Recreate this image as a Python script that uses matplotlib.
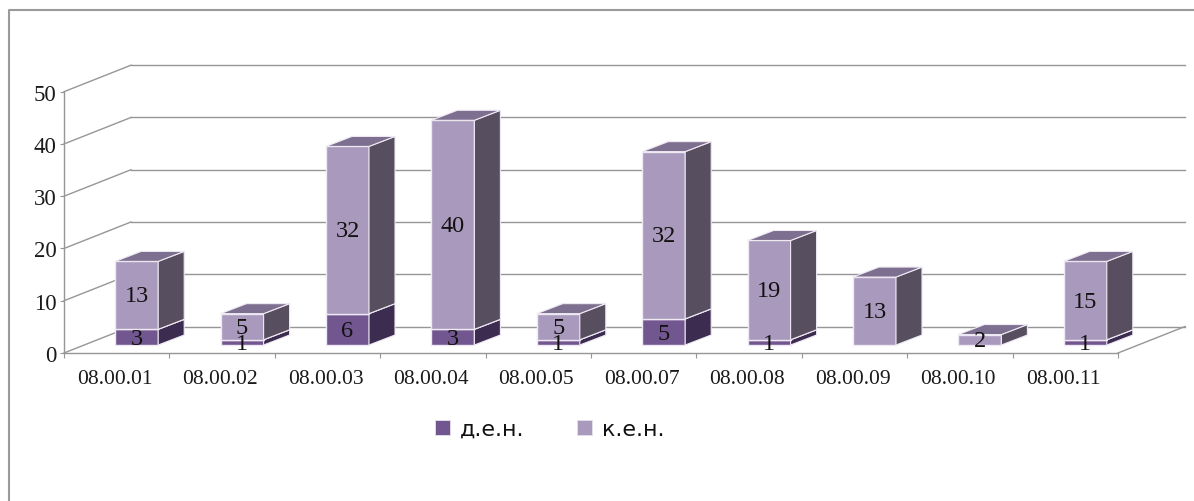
import matplotlib
matplotlib.use("Agg")
import matplotlib.pyplot as plt
from matplotlib.patches import Polygon, Rectangle
from matplotlib.lines import Line2D

categories = ["08.00.01", "08.00.02", "08.00.03", "08.00.04", "08.00.05",
              "08.00.07", "08.00.08", "08.00.09", "08.00.10", "08.00.11"]
den = [3, 1, 6, 3, 1, 5, 1, 0, 0, 1]
ken = [13, 5, 32, 40, 5, 32, 19, 13, 2, 15]
yticks = [0, 10, 20, 30, 40, 50]

W, H = 1194, 502
L, R, Y0, Y50 = 64, 1118, 354, 92.7
fig = plt.figure(figsize=(W/100, H/100), dpi=100, facecolor="white")
ax = fig.add_axes([L/W, 1-Y0/H, (R-L)/W, (Y0-Y50)/H])
ax.set_xlim(0, 10); ax.set_ylim(0, 50)
ax.patch.set_visible(False)
for s in ax.spines.values():
    s.set_visible(False)
ux = 10/(R-L); uy = 50/(Y0-Y50)   # data units per pixel

GRID = "#969696"
WALL_DX, WALL_DY = 67*ux, 26.5*uy
for v in yticks:
    ax.plot([0, WALL_DX], [v, v+WALL_DY], color=GRID, lw=1, clip_on=False, zorder=1)
    ax.plot([WALL_DX, 10+WALL_DX], [v+WALL_DY]*2, color=GRID, lw=1, clip_on=False, zorder=1)
ax.plot([10, 10+WALL_DX], [0, WALL_DY], color=GRID, lw=1, clip_on=False, zorder=1)
ax.plot([0, 10], [0, 0], color=GRID, lw=1, clip_on=False, zorder=1)
ax.plot([0, 0], [0, 50], color=GRID, lw=1, clip_on=False, zorder=1)

ax.set_xticks(range(11))
ax.set_xticklabels([])
ax.set_yticks(yticks)
ax.tick_params(axis="x", length=3.6, width=0.8, color=GRID)
ax.tick_params(axis="y", length=3.0, width=0.8, color=GRID, labelsize=16.5,
               labelfontfamily="Liberation Serif", labelcolor="#1a1a1a", pad=2.5)
for i, c in enumerate(categories):
    ax.text(i+0.5-2*ux, -25.5*uy, c, ha="center", va="center", fontsize=15.5,
            family="Liberation Serif", color="#1a1a1a", clip_on=False)

BW = 43*ux; OX = 20*ux; OY = 8*uy; DX = 26*ux; DY = 10*uy
EDGE = "#eee9f2"

def box(x, y0, y1, front, side, top, z):
    ax.add_patch(Rectangle((x, y0), BW, y1-y0, fc=front, ec=EDGE, lw=1, clip_on=False, zorder=z))
    ax.add_patch(Polygon([(x+BW, y0), (x+BW+DX, y0+DY), (x+BW+DX, y1+DY), (x+BW, y1)],
                         fc=side, ec=EDGE, lw=0.8, clip_on=False, zorder=z))
    ax.add_patch(Polygon([(x, y1), (x+DX, y1+DY), (x+BW+DX, y1+DY), (x+BW, y1)],
                         fc=top, ec=EDGE, lw=0.8, clip_on=False, zorder=z))

for i, (d, k) in enumerate(zip(den, ken)):
    x = i + 0.5 + OX - BW/2
    if d:
        box(x, OY, OY+d, "#725690", "#3c2c50", "#55406c", 3)
    box(x, OY+d, OY+d+k, "#a999bd", "#574f60", "#7d6f8f", 4)
    cx = x + BW/2
    if d:
        ax.text(cx, OY+d/2-0.3, str(d), ha="center", va="center", fontsize=17.5,
                family="Liberation Serif", color="#111111", zorder=6, clip_on=False)
    ax.text(cx, OY+d+k/2-0.1, str(k), ha="center", va="center", fontsize=17.5,
            family="Liberation Serif", color="#111111", zorder=6, clip_on=False)

# legend
for lx, col, lab, tx in [(435, "#725690", "д.е.н.", 460), (577, "#a999bd", "к.е.н.", 602)]:
    fig.patches.append(Rectangle((lx/W, 1-436/H), 15/W, 15/H, transform=fig.transFigure,
                                 fc=col, ec="#e6e0ec", lw=0.6))
    fig.text(tx/W, 1-430/H, lab, ha="left", va="center", fontsize=16,
             family="DejaVu Sans", color="#111111")

# outer frame: only the top and left edges fall inside the picture
fig.add_artist(Line2D([8.5/W, 8.5/W, 1], [0, 1-11/H, 1-11/H], transform=fig.transFigure,
                      color="#9a9a9a", lw=1.5))
fig.savefig("out.png", dpi=100)
